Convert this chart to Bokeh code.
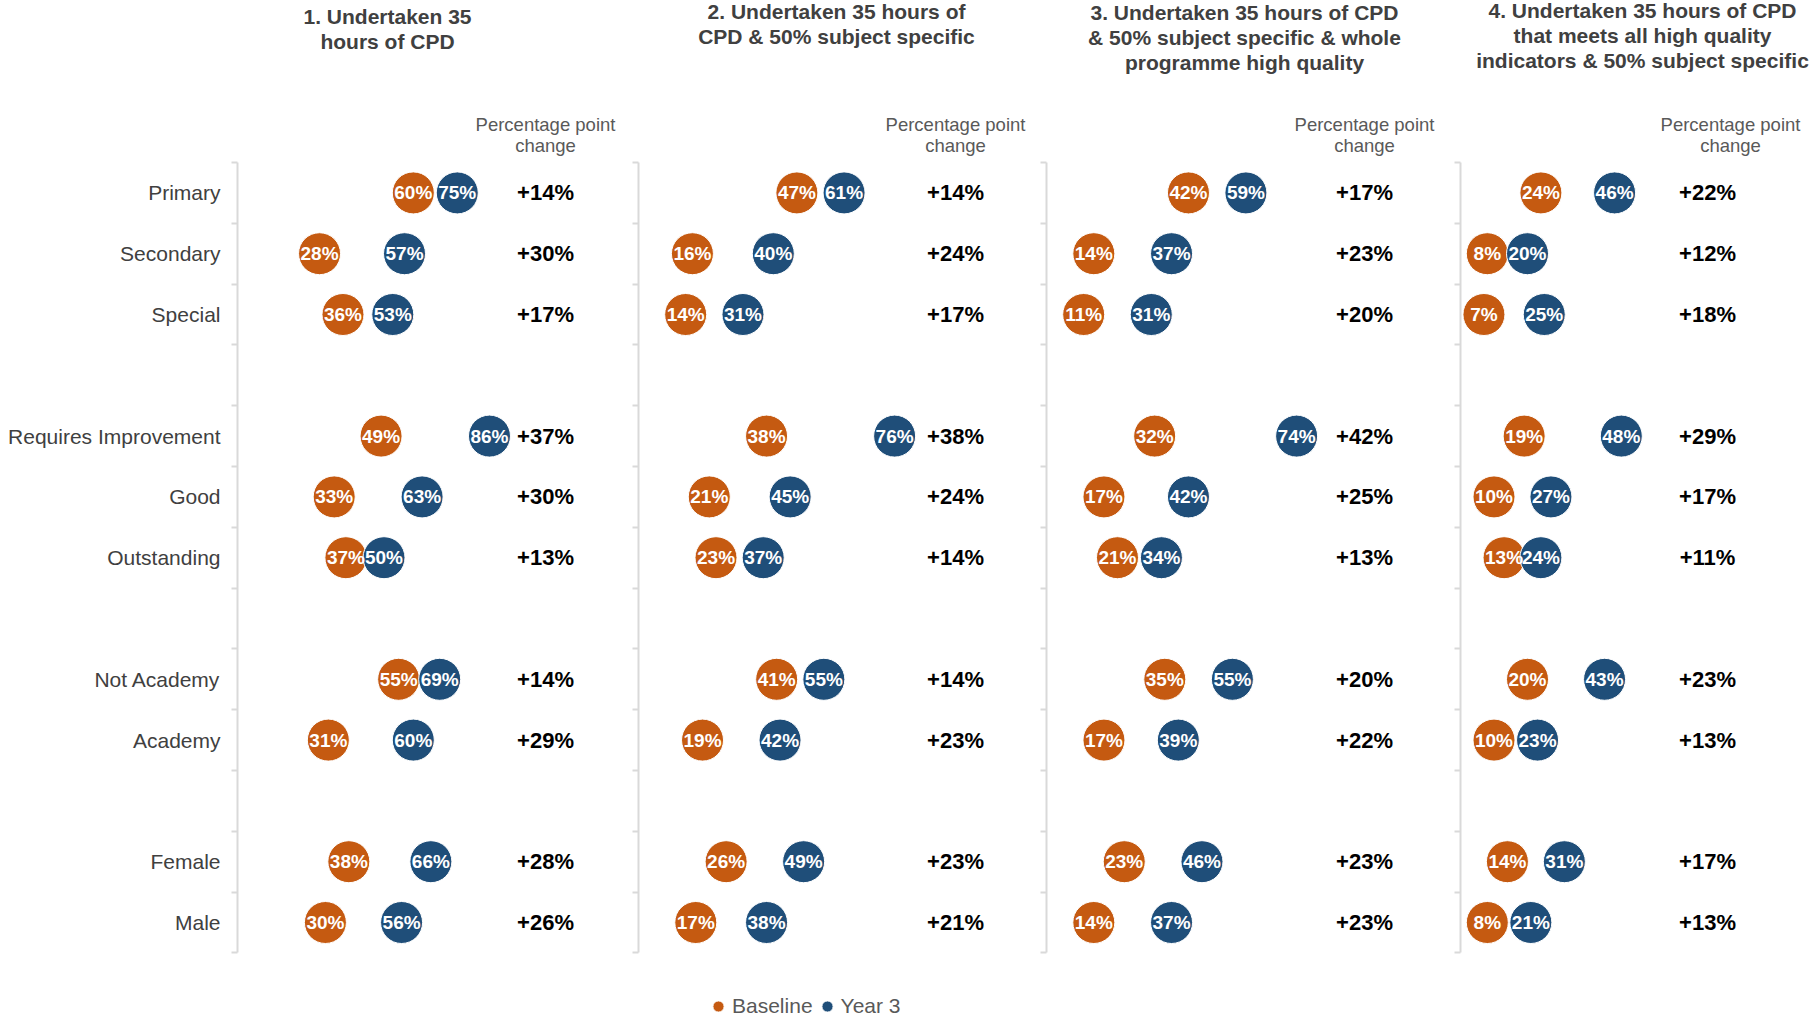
from bokeh.plotting import figure
from bokeh.models import ColumnDataSource, Range1d, FixedTicker, Legend, LegendItem
from bokeh.layouts import row
from bokeh.embed import file_html
from bokeh.resources import INLINE
from bokeh.core.properties import value

# ---------------- data ----------------
ROWS = ["Primary", "Secondary", "Special", "",
        "Requires Improvement", "Good", "Outstanding", "",
        "Not Academy", "Academy", "",
        "Female", "Male"]
CATEGORIES = [r for r in ROWS if r]

TITLES = [
    ["1. Undertaken 35", "hours of CPD"],
    ["2. Undertaken 35 hours of", "CPD & 50% subject specific"],
    ["3. Undertaken 35 hours of CPD", "& 50% subject specific & whole", "programme high quality"],
    ["4. Undertaken 35 hours of CPD", "that meets all high quality", "indicators & 50% subject specific"],
]
HEADER = ["Percentage point", "change"]
SERIES = ["Baseline", "Year 3"]

BASELINE = [
    [60, 28, 36, 49, 33, 37, 55, 31, 38, 30],
    [47, 16, 14, 38, 21, 23, 41, 19, 26, 17],
    [42, 14, 11, 32, 17, 21, 35, 17, 23, 14],
    [24, 8, 7, 19, 10, 13, 20, 10, 14, 8],
]
YEAR3 = [
    [75, 57, 53, 86, 63, 50, 69, 60, 66, 56],
    [61, 40, 31, 76, 45, 37, 55, 42, 49, 38],
    [59, 37, 31, 74, 42, 34, 55, 39, 46, 37],
    [46, 20, 25, 48, 27, 24, 43, 23, 31, 21],
]
CHANGE = [
    [14, 30, 17, 37, 30, 13, 14, 29, 28, 26],
    [14, 24, 17, 38, 24, 14, 14, 23, 23, 21],
    [17, 23, 20, 42, 25, 13, 20, 22, 23, 23],
    [22, 12, 18, 29, 17, 11, 23, 13, 17, 13],
]

# ---------------- style / layout ----------------
FONT = "Liberation Sans"
ORANGE, BLUE = "#C55A11", "#1F4E79"
AXIS_GREY = "#D9D9D9"

PAGE_TOP, PAGE_BOTTOM, PAGE_LEFT, PAGE_RIGHT = 0, 1020, 0, 1812
AXIS_TOP, ROW_H = 162, 60.8
AXIS_X = [237, 638, 1046, 1460]
LEFT_BORDER = [237, 10, 10, 10]
PX_PER_PCT = [2.93, 3.37, 3.38, 3.35]
CHANGE_PX = [545, 955, 1364, 1707]
HEADER_PX = [545, 955, 1364, 1730]
TITLE_PX = [387, 836, 1244, 1642]
TITLE_TOP = [16, 11, 11.5, 9.5]
TITLE_STEP = 25
HEADER_Y = [124, 145]


def ydata(py):
    return (py - AXIS_TOP) / ROW_H - 0.5


slots = [i for i, r in enumerate(ROWS) if r]
fig_left = [AXIS_X[k] - LEFT_BORDER[k] for k in range(4)]
fig_right = fig_left[1:] + [PAGE_RIGHT]

figs = []
for k in range(4):
    width = fig_right[k] - fig_left[k]
    frame_w = width - LEFT_BORDER[k]
    s = PX_PER_PCT[k]
    p = figure(width=width, height=PAGE_BOTTOM - PAGE_TOP,
               x_range=Range1d(0, frame_w / s),
               y_range=Range1d(start=ydata(PAGE_BOTTOM), end=ydata(PAGE_TOP)),
               min_border_left=LEFT_BORDER[k], min_border_right=0,
               min_border_top=0, min_border_bottom=0,
               toolbar_location=None, output_backend="svg",
               x_axis_location=None, outline_line_color=None)
    p.grid.grid_line_color = None

    ax = p.yaxis[0]
    ax.ticker = FixedTicker(ticks=slots, minor_ticks=[i - 0.5 for i in range(len(ROWS) + 1)])
    if k == 0:
        ax.major_label_overrides = {sl: lab for sl, lab in zip(slots, CATEGORIES)}
    else:
        ax.major_label_overrides = {sl: "" for sl in slots}
    ax.bounds = (-0.5, len(ROWS) - 0.5)
    ax.axis_line_color = AXIS_GREY
    ax.axis_line_width = 2
    ax.major_tick_line_color = None
    ax.major_tick_out = 6
    ax.major_tick_in = 0
    ax.minor_tick_line_color = AXIS_GREY
    ax.minor_tick_line_width = 2
    ax.minor_tick_out = 6
    ax.minor_tick_in = 0
    ax.major_label_standoff = 11
    ax.major_label_text_font = FONT
    ax.major_label_text_font_size = "21px"
    ax.major_label_text_color = "#404040"

    src = ColumnDataSource(dict(
        y=slots,
        base=BASELINE[k], yr3=YEAR3[k],
        base_lab=[f"{v}%" for v in BASELINE[k]],
        yr3_lab=[f"{v}%" for v in YEAR3[k]],
        chg_lab=[f"+{v}%" for v in CHANGE[k]],
    ))
    r_base = p.scatter(x="base", y="y", source=src, size=42, marker="circle",
                       fill_color=ORANGE, line_color="white", line_width=1)
    r_y3 = p.scatter(x="yr3", y="y", source=src, size=42, marker="circle",
                     fill_color=BLUE, line_color="white", line_width=1)
    for col in ("base", "yr3"):
        p.text(x=col, y="y", text=col + "_lab", source=src, text_align="center",
               text_baseline="middle", text_color="white", text_font=value(FONT),
               text_font_style="bold", text_font_size="19px")
    p.text(x=(CHANGE_PX[k] - AXIS_X[k]) / s, y="y", text="chg_lab", source=src,
           text_align="center", text_baseline="middle", text_color="black",
           text_font=value(FONT), text_font_style="bold", text_font_size="22px")

    tsrc = ColumnDataSource(dict(
        y=[ydata(TITLE_TOP[k] + i * TITLE_STEP) for i in range(len(TITLES[k]))],
        text=TITLES[k]))
    p.text(x=(TITLE_PX[k] - AXIS_X[k]) / s, y="y", text="text", source=tsrc,
           text_align="center", text_baseline="middle", text_color="#404040",
           text_font=value(FONT), text_font_style="bold", text_font_size="21px")

    hsrc = ColumnDataSource(dict(y=[ydata(v) for v in HEADER_Y], text=HEADER))
    p.text(x=(HEADER_PX[k] - AXIS_X[k]) / s, y="y", text="text", source=hsrc,
           text_align="center", text_baseline="middle", text_color="#595959",
           text_font=value(FONT), text_font_size="18.5px")

    if k == 1:
        legend = Legend(items=[LegendItem(label=SERIES[0], renderers=[r_base]),
                               LegendItem(label=SERIES[1], renderers=[r_y3])],
                        orientation="horizontal", location=(66, 0),
                        border_line_color=None, background_fill_alpha=0,
                        padding=0, margin=0, spacing=-7, label_standoff=-3,
                        glyph_width=28, glyph_height=28,
                        label_text_font=FONT, label_text_font_size="21px",
                        label_text_color="#595959")
        p.add_layout(legend)
    figs.append(p)

layout = row(*figs, spacing=0)
open("out.html", "w").write(file_html(layout, INLINE, title="CPD chart"))
